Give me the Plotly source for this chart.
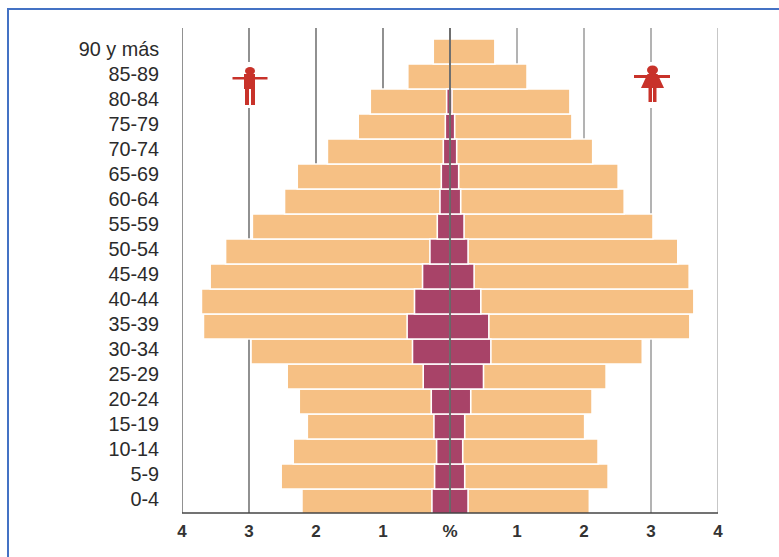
import plotly.graph_objects as go

age_groups = ["0-4","5-9","10-14","15-19","20-24","25-29","30-34","35-39","40-44","45-49",
              "50-54","55-59","60-64","65-69","70-74","75-79","80-84","85-89","90 y más"]
men_total = [2.21,2.52,2.34,2.13,2.25,2.43,2.97,3.68,3.71,3.58,3.35,2.95,2.47,2.28,1.83,1.37,1.19,0.63,0.25]
women_total = [2.08,2.36,2.21,2.01,2.12,2.33,2.87,3.58,3.64,3.57,3.40,3.03,2.60,2.51,2.13,1.82,1.79,1.15,0.67]
men_inner = [0.27,0.23,0.20,0.24,0.28,0.40,0.56,0.64,0.53,0.41,0.30,0.19,0.15,0.13,0.10,0.07,0.05,0.0,0.0]
women_inner = [0.27,0.22,0.19,0.22,0.31,0.50,0.61,0.58,0.46,0.36,0.27,0.21,0.16,0.13,0.10,0.07,0.03,0.0,0.0]
tick_values = [-4,-3,-2,-1,0,1,2,3,4]
tick_labels = ["4","3","2","1","%","1","2","3","4"]

ORANGE = "#F6C084"
PURPLE = "#A84368"
RED = "#C8322A"
W, H = 779, 557
L, R, T, B = 182, 718, 28, 513

def px(x): return (x - L) / (R - L)
def py(y): return (B - y) / (B - T)

fig = go.Figure()
ys = list(range(len(age_groups)))
line = dict(color="white", width=1.6)
fig.add_trace(go.Bar(y=ys, x=[-v for v in men_total], orientation="h", marker=dict(color=ORANGE, line=line), width=1))
fig.add_trace(go.Bar(y=ys, x=women_total, orientation="h", marker=dict(color=ORANGE, line=line), width=1))
fig.add_trace(go.Bar(y=ys, x=[-v for v in men_inner], orientation="h", marker=dict(color=PURPLE, line=line), width=1))
fig.add_trace(go.Bar(y=ys, x=women_inner, orientation="h", marker=dict(color=PURPLE, line=line), width=1))

shapes = []
# frame
shapes.append(dict(type="line", xref="paper", yref="paper", x0=px(7), x1=px(779), y0=py(9), y1=py(9), line=dict(color="#4472C4", width=2)))
shapes.append(dict(type="line", xref="paper", yref="paper", x0=px(8), x1=px(8), y0=py(9), y1=py(557), line=dict(color="#4472C4", width=2)))
# gridlines
for v in tick_values:
    if v == 0:
        continue
    col = "#555555" if v < 0 else ("#8a8a8a" if v < 4 else "#aaaaaa")
    shapes.append(dict(type="line", xref="x", yref="paper", x0=v, x1=v, y0=0, y1=1, layer="below", line=dict(color=col, width=1.3)))
shapes.append(dict(type="line", xref="x", yref="paper", x0=0, x1=0, y0=0, y1=1, line=dict(color="#333333", width=1.4)))
shapes.append(dict(type="line", xref="x", yref="paper", x0=-4, x1=4, y0=0, y1=0, line=dict(color="#444444", width=1.5)))

def rect(x0, x1, y0, y1, color=RED):
    return dict(type="rect", xref="paper", yref="paper", x0=px(x0), x1=px(x1), y0=py(y1), y1=py(y0), fillcolor=color, line=dict(width=0))
def circle(x0, x1, y0, y1):
    return dict(type="circle", xref="paper", yref="paper", x0=px(x0), x1=px(x1), y0=py(y1), y1=py(y0), fillcolor=RED, line=dict(width=0))

# male icon
shapes += [rect(240, 260, 62, 108, "white"),
           circle(245, 255, 67, 75), rect(232.5, 267.5, 77, 79.5), rect(244, 255, 74, 89),
           rect(245, 249, 89, 105), rect(251, 255, 89, 105)]
# female icon
shapes += [rect(642, 662, 62, 108, "white"),
           circle(647, 658, 65.5, 74.5), rect(634, 670, 75, 78),
           dict(type="path", xref="paper", yref="paper",
                path=f"M {px(647.5)} {py(74)} L {px(657.5)} {py(74)} L {px(664)} {py(88)} L {px(641)} {py(88)} Z",
                fillcolor=RED, line=dict(width=0)),
           rect(648.5, 652, 88, 102), rect(653, 656.5, 88, 102)]

fig.update_layout(
    width=W, height=H, autosize=False, barmode="overlay", showlegend=False,
    margin=dict(l=L, r=W-R, t=T, b=H-B), paper_bgcolor="white", plot_bgcolor="rgba(0,0,0,0)",
    font=dict(family="Liberation Sans", color="#2b2b2b", size=15),
    shapes=shapes,
    xaxis=dict(range=[-4, 4], tickmode="array", tickvals=tick_values, ticktext=tick_labels,
               showgrid=False, zeroline=False, showline=False, ticks="outside", ticklen=3, tickcolor="rgba(0,0,0,0)",
               tickfont=dict(size=17, family="Liberation Sans", weight="bold", color="#333333"), automargin=False),
    yaxis=dict(range=[-0.46, 18.94], tickmode="array", tickvals=[y + 0.1 for y in ys], ticktext=age_groups,
               showgrid=False, zeroline=False, showline=False, ticks="outside", ticklen=18, tickcolor="rgba(0,0,0,0)",
               tickfont=dict(size=19.8, family="Liberation Sans"), automargin=False),
)
fig.write_html("out.html", config=dict(displayModeBar=False),
               post_script="document.body.style.margin='0';document.documentElement.style.overflow='hidden';")
